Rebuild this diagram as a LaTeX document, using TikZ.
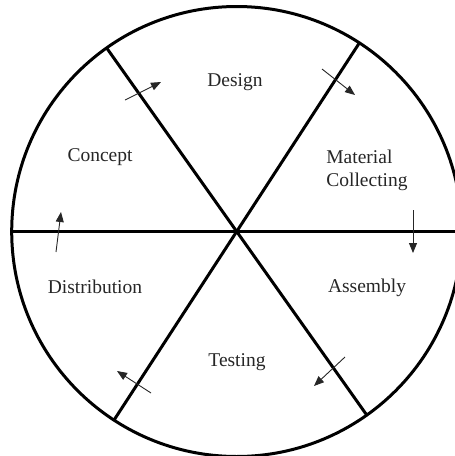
\documentclass[tikz,border=0pt]{standalone}
\usepackage{fontspec}
\setmainfont{Liberation Serif}
\usetikzlibrary{arrows.meta}
\begin{document}
\begin{tikzpicture}[x=1pt,y=-1pt,
  wheel/.style={line width=3pt},
  lbl/.style={font=\fontsize{19.5}{23}\selectfont, text=black!85, inner sep=0pt},
  flow/.style={line width=0.9pt, draw=black!85, -{Triangle[length=10pt,width=8pt]}}]
\useasboundingbox (0,0) rectangle (455,456);
\clip (0,0) rectangle (455,456);
\coordinate (c) at (236.7,231.5);
% spokes end points
\coordinate (w) at (11.7,231.5);
\coordinate (e) at (461.7,231.5);
\coordinate (ne) at (359,43.5);
\coordinate (sw) at (114.4,419.5);
\coordinate (nw) at (106.7,48);
\coordinate (se) at (366.7,415);
\draw[wheel] (c) circle[radius=225pt];
\draw[wheel] (w) -- (e);
\draw[wheel] (ne) -- (sw);
\draw[wheel] (nw) -- (se);
% labels
\node[lbl] (design) at (235,82) {Design};
\node[lbl] (concept) at (100,157) {Concept};
\node[lbl, align=left] (material) at (367,170.5) {Material\\Collecting};
\node[lbl] (assembly) at (367,288) {Assembly};
\node[lbl] (testing) at (237,362) {Testing};
\node[lbl] (distribution) at (95,287) {Distribution};
% flow arrows
\coordinate (a1s) at (125,100); \coordinate (a1e) at (161,82);
\coordinate (a2s) at (322,69);  \coordinate (a2e) at (355,95);
\coordinate (a3s) at (413,210); \coordinate (a3e) at (413,253);
\coordinate (a4s) at (345,357); \coordinate (a4e) at (314,386);
\coordinate (a5s) at (151,393); \coordinate (a5e) at (117,371);
\coordinate (a6s) at (56,252);  \coordinate (a6e) at (61,212);
\draw[flow] (a1s) -- (a1e);
\draw[flow] (a2s) -- (a2e);
\draw[flow] (a3s) -- (a3e);
\draw[flow] (a4s) -- (a4e);
\draw[flow] (a5s) -- (a5e);
\draw[flow] (a6s) -- (a6e);
\end{tikzpicture}
\end{document}
